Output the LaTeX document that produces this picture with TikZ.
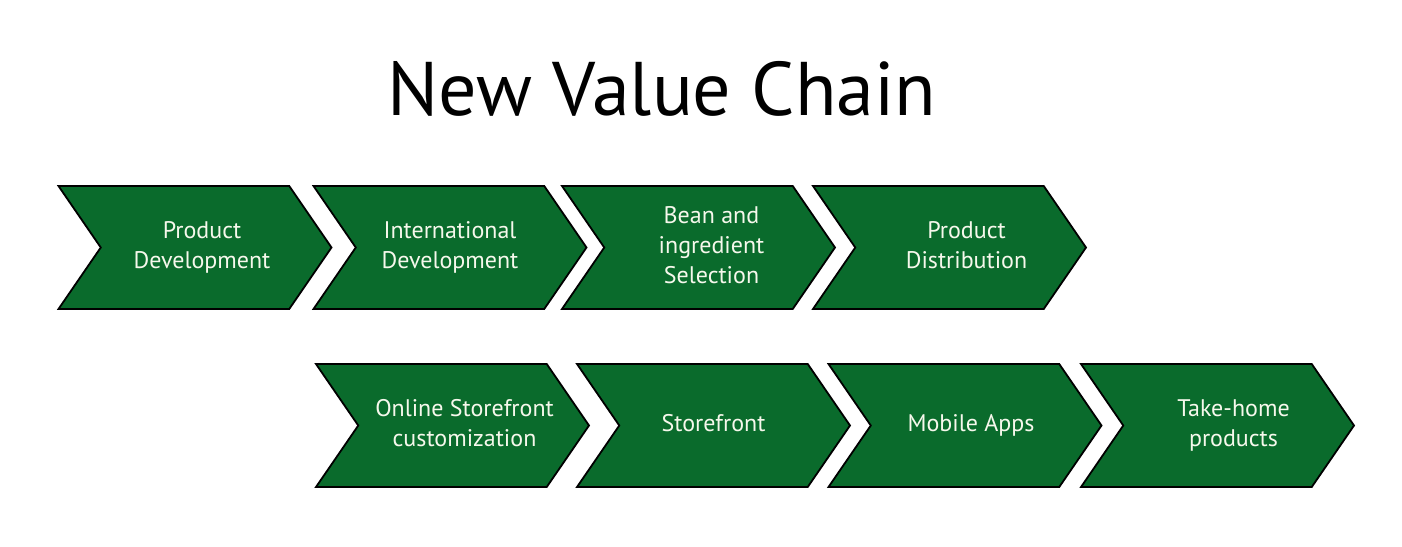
\documentclass[tikz,border=0pt]{standalone}
\usepackage{fontspec}
\setmainfont{PT Sans}
\usetikzlibrary{shapes.symbols}
\definecolor{chaingreen}{RGB}{10,107,44}
\definecolor{chaintext}{RGB}{246,248,236}

\begin{document}
\begin{tikzpicture}[x=1pt,y=-1pt,
	chevron/.style={draw=black, line width=1.8pt, fill=chaingreen, text=chaintext, signal, signal from=west, signal to=east, signal pointer angle=111, minimum width=273pt, minimum height=123pt, inner sep=0pt, font=\fontsize{24}{30}\selectfont}]

	\useasboundingbox (0,0) rectangle (1402,546);

	% title
	\node [anchor=base, font=\fontsize{76}{80}\selectfont] at (662,115) (title) {New Value Chain};

	% upper row
	\def\y{247.5}
	\foreach \x/\txt/\dx [count=\i] in {195/{Product\\Development}/7, 450/{International\\Development}/0, 698.5/{Bean and\\ingredient\\Selection}/13, 949.5/{Product\\Distribution}/17}
	{
		\node [chevron] at (\x,\y) (upper\i) {\hspace*{\dx pt}\begin{tabular}{@{}c@{}}\txt\end{tabular}\hspace*{-\dx pt}};
	}

	% lower row
	\def\y{425.5}
	\foreach \x/\txt/\dx [count=\i] in {452.5/{Online Storefront\\customization}/12, 713.5/{Storefront}/0, 965/{Mobile Apps}/6, 1217.5/{Take-home\\products}/16}
	{
		\node [chevron] at (\x,\y) (lower\i) {\hspace*{\dx pt}\begin{tabular}{@{}c@{}}\txt\end{tabular}\hspace*{-\dx pt}};
	}

\end{tikzpicture}
\end{document}
